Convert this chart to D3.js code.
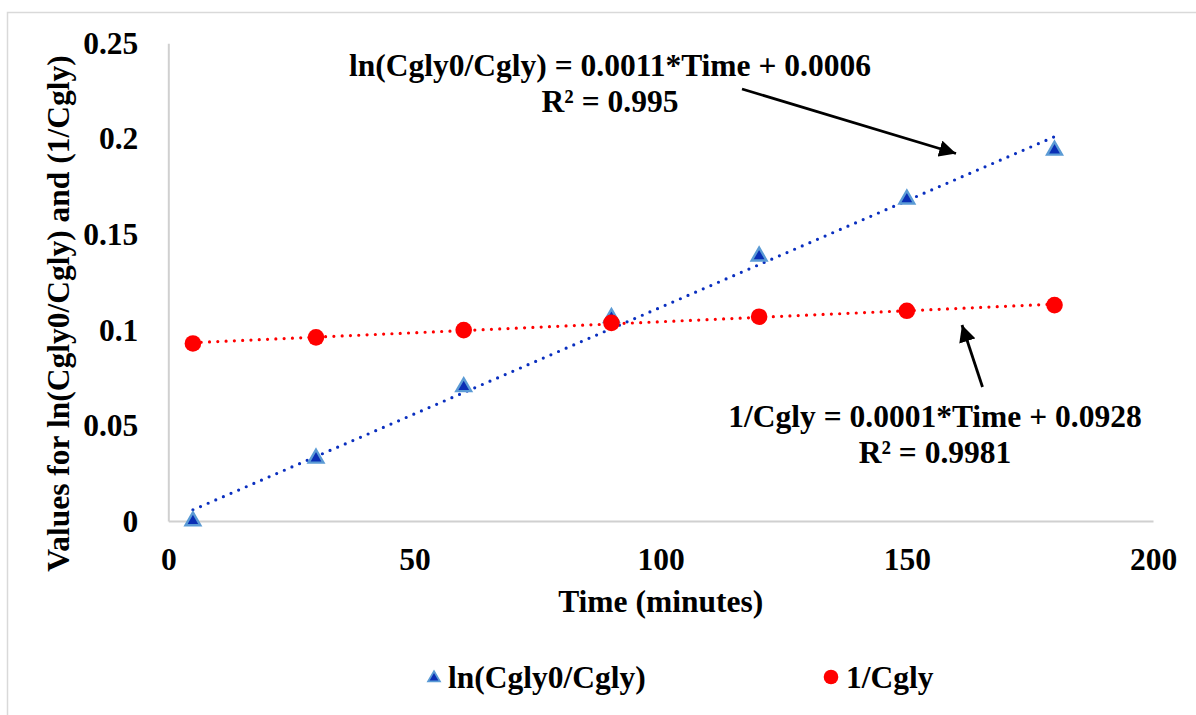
<!DOCTYPE html>
<html>
<head>
<meta charset="utf-8">
<script src="https://cdn.jsdelivr.net/npm/d3@7"></script>
<style>
  body { margin: 0; background: #fff; }
  text { font-family: "Liberation Serif", "Times New Roman", serif; font-weight: bold; fill: #000; }
</style>
</head>
<body>
<svg id="chart" width="1196" height="715"></svg>
<script>
// Sampling times (minutes)
const times = [5, 30, 60, 90, 120, 150, 180];
// ln(Cgly0/Cgly) at each time
const lnRatio = [0, 0.0328, 0.0702, 0.1064, 0.1386, 0.1684, 0.194];
// 1/Cgly at each time
const invConc = [0.0929, 0.0961, 0.0999, 0.1037, 0.1069, 0.1100, 0.1130];

const xTicks = [0, 50, 100, 150, 200];
const yTicks = [0, 0.05, 0.1, 0.15, 0.2, 0.25];
const seriesNames = ["ln(Cgly0/Cgly)", "1/Cgly"];
const eqLnRatio = ["ln(Cgly0/Cgly) = 0.0011*Time + 0.0006", "R² = 0.995"];
const eqInvConc = ["1/Cgly = 0.0001*Time + 0.0928", "R² = 0.9981"];

const svg = d3.select("#chart");
const FS = 31.5;

// chart frame
svg.append("path").attr("d", "M7.5,715 V12.5 H1196")
  .attr("fill", "none").attr("stroke", "#d9d9d9").attr("stroke-width", 1.5);

const x = d3.scaleLinear().domain([0, 200]).range([168.3, 1153]);
const y = d3.scaleLinear().domain([0, 0.25]).range([521, 43.3]);

// axes
const xAxis = svg.append("g").attr("transform", `translate(0,${y(0)})`)
  .call(d3.axisBottom(x).tickValues(xTicks).tickSize(0).tickSizeOuter(0).tickPadding(26.6).tickFormat(d => String(d)));
const yAxis = svg.append("g").attr("transform", `translate(${x(0)},0)`)
  .call(d3.axisLeft(y).tickValues(yTicks).tickSize(0).tickSizeOuter(0).tickPadding(30).tickFormat(d => String(d)));
[xAxis, yAxis].forEach(g => {
  g.select(".domain").attr("stroke", "#d0d0d0").attr("stroke-width", 2);
  g.selectAll("text").attr("font-size", FS).attr("font-family", null).attr("fill", "#000");
});

// axis titles
svg.append("text").attr("x", (x(0) + x(200)) / 2).attr("y", 612)
  .attr("text-anchor", "middle").attr("font-size", FS).text("Time (minutes)");
svg.append("text").attr("transform", "translate(69,313.5) rotate(-90)")
  .attr("text-anchor", "middle").attr("font-size", FS).text("Values for ln(Cgly0/Cgly) and (1/Cgly)");

// least-squares fit
function fit(xs, ys) {
  const mx = d3.mean(xs), my = d3.mean(ys);
  const sxy = d3.sum(xs, (v, i) => (v - mx) * (ys[i] - my));
  const sxx = d3.sum(xs, v => (v - mx) ** 2);
  const b = sxy / sxx;
  return { slope: b, intercept: my - b * mx };
}

const series = [
  { values: lnRatio, color: "#0a2fbf" },
  { values: invConc, color: "#ff0000" }
];

// dotted trendlines
const x0 = d3.min(times), x1 = d3.max(times);
series.forEach(s => {
  const f = fit(times, s.values);
  svg.append("line")
    .attr("x1", x(x0)).attr("y1", y(f.intercept + f.slope * x0))
    .attr("x2", x(x1)).attr("y2", y(f.intercept + f.slope * x1))
    .attr("stroke", s.color).attr("stroke-width", 3.2)
    .attr("stroke-linecap", "round").attr("stroke-dasharray", "0 8.3");
});

// markers
const tri = d3.symbol().type(d3.symbolTriangle).size(95);
svg.append("g").selectAll("path").data(times).join("path")
  .attr("d", tri)
  .attr("transform", (d, i) => `translate(${x(d)},${y(lnRatio[i])})`)
  .attr("fill", "#0a2fb5").attr("stroke", "#5b9bd5").attr("stroke-width", 2.4);
svg.append("g").selectAll("circle").data(times).join("circle")
  .attr("cx", d => x(d)).attr("cy", (d, i) => y(invConc[i])).attr("r", 8.3)
  .attr("fill", "#ff0000");

// equation labels
function eqBlock(lines, cx, baseline) {
  lines.forEach((t, i) => {
    svg.append("text").attr("x", cx).attr("y", baseline + i * 36)
      .attr("text-anchor", "middle").attr("font-size", FS).text(t);
  });
}
eqBlock(eqLnRatio, 610, 76);
eqBlock(eqInvConc, 935, 427);

// arrows
const defs = svg.append("defs");
defs.append("marker").attr("id", "head").attr("viewBox", "0 0 10 10")
  .attr("refX", 10).attr("refY", 5).attr("markerWidth", 6).attr("markerHeight", 6)
  .attr("markerUnits", "strokeWidth").attr("orient", "auto")
  .append("path").attr("d", "M0,0 L10,5 L0,10 Z").attr("fill", "#000");
[[742, 89, 956, 153.5], [982.5, 387, 962, 325]].forEach(a => {
  svg.append("line").attr("x1", a[0]).attr("y1", a[1]).attr("x2", a[2]).attr("y2", a[3])
    .attr("stroke", "#000").attr("stroke-width", 2.8).attr("marker-end", "url(#head)");
});

// legend
const lg = svg.append("g");
lg.append("path").attr("d", d3.symbol().type(d3.symbolTriangle).size(60))
  .attr("transform", "translate(434,678)")
  .attr("fill", "#0a2fb5").attr("stroke", "#5b9bd5").attr("stroke-width", 1.8);
lg.append("text").attr("x", 448).attr("y", 688).attr("font-size", FS).text(seriesNames[0]);
lg.append("circle").attr("cx", 831).attr("cy", 677).attr("r", 7.3).attr("fill", "#ff0000");
lg.append("text").attr("x", 846).attr("y", 688).attr("font-size", FS).text(seriesNames[1]);
</script>
</body>
</html>
